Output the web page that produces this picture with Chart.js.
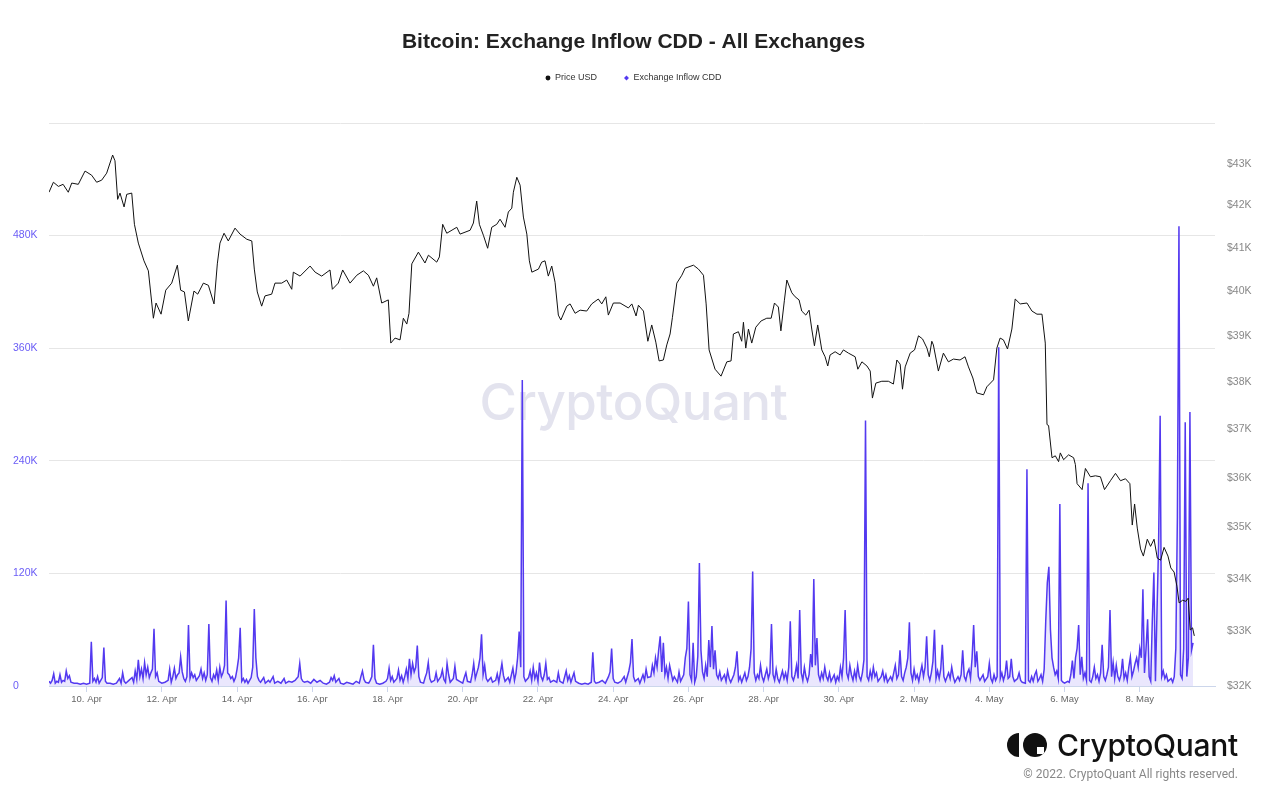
<!DOCTYPE html>
<html>
<head>
<meta charset="utf-8">
<title>Bitcoin: Exchange Inflow CDD - All Exchanges</title>
<script src="https://cdn.jsdelivr.net/npm/chart.js@4.4.0/dist/chart.umd.min.js"></script>
<style>
  html, body { margin: 0; padding: 0; background: #fff; }
  #wrap { position: relative; width: 1267px; height: 793px; overflow: hidden; }
  #wrap canvas { position: relative; z-index: 1; }
  .watermark {
    position: absolute; left: 0; width: 1267px; top: 372px; z-index: 0;
    text-align: center; font-family: Inter, "Noto Sans", sans-serif; font-weight: 500;
    font-size: 51px; line-height: 60px; color: #e3e3ee; letter-spacing: -0.5px;
  }
  .logo { position: absolute; right: 29px; top: 730px; z-index: 2; display: flex; align-items: center; }
  .logo .half { width: 12px; height: 24px; background: #111; border-radius: 12px 0 0 12px; margin-right: 4px; }
  .logo .ring { position: relative; width: 24px; height: 24px; background: #111; border-radius: 50%; margin-right: 10px; overflow: hidden; }
  .logo .ring i { position: absolute; right: 3px; bottom: 3px; width: 7px; height: 7px; background: #fff; }
  .logo span { font-family: Inter, "Noto Sans", sans-serif; font-weight: 500; font-size: 30px; line-height: 30px; color: #111; letter-spacing: -0.3px; }
  .copy { position: absolute; right: 29px; top: 767px; z-index: 2; font-family: Roboto, sans-serif; font-size: 12px; color: #888; }
</style>
</head>
<body>
<div id="wrap">
  <div class="watermark">CryptoQuant</div>
  <canvas id="cddChart"></canvas>
  <div class="logo"><div class="half"></div><div class="ring"><i></i></div><span>CryptoQuant</span></div>
  <div class="copy">© 2022. CryptoQuant All rights reserved.</div>
</div>
<script>
// x values are hours since 9 Apr 2022 00:00
var dateTickHours = [24, 72, 120, 168, 216, 264, 312, 360, 408, 456, 504, 552, 600, 648, 696];
var dateTickLabels = ['10. Apr', '12. Apr', '14. Apr', '16. Apr', '18. Apr', '20. Apr', '22. Apr', '24. Apr',
                      '26. Apr', '28. Apr', '30. Apr', '2. May', '4. May', '6. May', '8. May'];
var priceTicks = [32000, 33000, 34000, 35000, 36000, 37000, 38000, 39000, 40000, 41000, 42000, 43000];

// Price USD, [hour, price]
var priceSeries = [
  [0,42310],[2.8,42550],[6,42450],[9,42500],[12.3,42310],[14.5,42530],[18.7,42500],[23,42820],[27.2,42720],
  [30.4,42550],[33.6,42600],[36.8,42770],[40.6,43210],[42.1,43070],[43.8,42140],[45.3,42290],[47.9,41960],
  [49.6,42260],[52.8,42290],[54.5,41550],[57,41110],[60.6,40700],[63.4,40470],[66.6,39400],[68.3,39740],
  [71.5,39490],[74.5,40030],[78.3,40190],[81.9,40600],[84,40030],[86.4,39990],[88.9,39340],[92.5,40010],
  [94.9,39940],[98.5,40190],[101.7,40140],[105.3,39720],[107.4,40630],[109.1,41110],[111.7,41340],
  [114.4,41160],[118.7,41460],[121.9,41320],[126.2,41200],[129.4,41160],[131,40510],[132.9,39990],
  [135.7,39670],[137.8,39900],[142.1,39940],[144.2,40190],[148.5,40190],[151.7,40260],[154.9,40050],
  [155.9,40440],[160.2,40350],[166.6,40580],[169.8,40440],[174,40350],[179.3,40490],[180.8,40050],
  [184.6,40190],[187.4,40490],[192.1,40190],[196.4,40370],[200.6,40470],[203.8,40370],[207,40120],
  [209.1,40310],[212.3,39740],[216.5,39810],[218.1,38850],[220.8,38960],[224,38920],[226.1,39400],
  [228.3,39270],[229.7,39510],[231.5,40630],[235.7,40900],[239.9,40650],[242.1,40830],[247.4,40670],
  [249.1,40790],[251.2,41550],[253.8,41340],[260.2,41480],[262.3,41320],[268.7,41410],[270.8,41580],
  [272.9,42100],[274.6,41550],[277.2,41290],[279.9,40990],[282.5,41480],[285.7,41550],[287.8,41670],
  [291,41480],[293.1,41840],[295.3,41930],[296.3,42310],[298.5,42670],[300.6,42480],[302.7,41720],
  [304.9,41320],[306.5,40700],[308.1,40440],[312.3,40510],[314.4,40670],[316.5,40700],[318.6,40350],
  [320.8,40580],[322.9,40210],[325,39470],[326.6,39360],[330.4,39670],[332.5,39720],[335.7,39510],
  [338.9,39580],[343.1,39560],[346.3,39720],[350.5,39830],[352.7,39720],[355.3,39880],[356.9,39470],
  [360.1,39740],[364.4,39740],[369.7,39630],[371.9,39720],[374.6,39450],[376.1,39690],[379.3,39560],
  [382.1,38890],[384.6,39250],[387.2,38870],[389.3,38460],[392,38480],[394.2,38810],[396.3,39050],
  [397.8,39420],[400.6,40190],[403.8,40370],[405.9,40530],[411.2,40600],[414.4,40510],[417.6,40370],
  [419.3,39720],[421.2,38700],[425,38280],[428.8,38130],[432.5,38440],[435.2,38460],[436.7,39050],
  [439.9,39100],[442,38890],[443.1,39310],[444.6,38740],[446.3,39160],[448.4,38850],[451,39200],
  [454.4,39340],[458,39400],[460.8,39400],[462.9,39740],[465.4,39650],[467,39120],[469.2,39790],
  [470.8,40260],[474,39970],[476.1,39880],[478.6,39810],[480.3,39560],[482.9,39470],[485,39580],
  [486.7,39160],[488.4,38790],[490.5,39250],[493.1,38700],[495.2,38550],[496.9,38350],[498.4,38590],
  [501.6,38660],[504.8,38590],[506.9,38700],[510.1,38630],[514.4,38550],[516.1,38280],[518.7,38440],
  [521.9,38350],[524,38240],[525.4,37660],[527.6,37980],[531.4,38020],[535.6,38020],[538.8,37960],
  [541,38480],[543.1,38390],[544.6,37850],[546.3,38330],[549.5,38630],[552.3,38700],[554.8,39010],
  [557.4,38940],[560.2,38740],[561.7,38550],[563.3,38890],[564.3,38810],[567.5,38240],[570.7,38630],
  [573.9,38440],[577.1,38500],[581.3,38480],[584.5,38550],[586.7,38330],[589.5,38090],[592,37770],
  [596.3,37730],[598.4,37900],[602.7,38050],[604.8,38740],[606.9,38960],[609,38920],[611.6,38720],
  [614.4,39160],[616.5,39830],[619.7,39720],[624,39740],[627.2,39560],[630.4,39490],[633.6,39490],
  [635.7,38850],[636.8,37100],[637.8,37080],[640,36410],[642.1,36450],[644.2,36330],[645.3,36510],
  [647.4,36370],[650.6,36470],[653.8,36410],[654.9,36270],[656,35880],[659.2,35760],[661.3,36190],
  [664.5,36020],[667.7,36040],[670.9,36020],[673.5,35760],[677.3,35940],[680.5,36090],[683.7,35940],
  [686.9,35980],[689.7,35880],[691.2,35050],[692.7,35470],[694.4,34990],[696.5,34580],[698.3,34440],
  [700.8,34770],[702.9,34630],[705.1,34770],[707.2,34400],[709.3,34360],[711.5,34610],[714,34440],
  [715.8,34210],[717.9,34130],[719.7,33860],[721.1,33540],[723.3,33590],[725.4,33570],[726.9,33630],
  [728.2,33030],[729.7,33070],[730.8,32920]
];

// Exchange Inflow CDD, [hour, thousands]
var cddSeries = [
  [0,5],[1,3],[2,6],[3,13],[4,3],[5,5],[6,4],[7,12],[8,4],[9,6],[10,5],[11,16],[12,8],[13,11],[14,4],[16,3],
  [18,3],[20,2],[22,3],[24,2],[26,3],[27,47],[28,5],[29,8],[30,4],[31,10],[32,3],[33,6],[34,9],[35,41],[36,5],
  [37,3],[39,3],[41,2],[43,3],[45,8],[46,3],[47,14],[48,5],[49,3],[51,6],[53,9],[54,4],[55,16],[56,7],[57,28],
  [58,10],[59,18],[60,8],[61,25],[62,12],[63,20],[64,9],[65,14],[66,18],[67,61],[68,10],[69,14],[70,5],[72,3],
  [74,4],[76,6],[77,18],[78,4],[79,10],[80,19],[81,8],[82,12],[83,14],[84,31],[85,15],[86,8],[87,5],[88,10],
  [89,65],[90,8],[91,14],[92,9],[93,12],[94,6],[96,11],[97,18],[98,8],[99,14],[100,6],[101,12],[102,66],[103,9],
  [104,5],[105,12],[106,8],[107,17],[108,6],[109,20],[110,10],[111,14],[112,22],[113,91],[114,14],[115,12],
  [116,8],[117,10],[118,5],[119,9],[120,18],[121,30],[122,62],[123,5],[124,8],[125,4],[126,7],[127,3],[128,6],
  [129,9],[130,20],[131,82],[132,30],[133,10],[134,6],[135,4],[137,9],[138,3],[140,6],[141,4],[143,10],[144,3],
  [146,5],[148,3],[150,8],[151,3],[153,5],[155,4],[157,6],[158,8],[159,10],[160,24],[161,8],[162,5],[163,4],
  [165,5],[167,3],[169,7],[171,4],[173,6],[175,3],[177,2],[179,4],[180,9],[181,6],[182,11],[183,4],[185,8],
  [186,3],[188,2],[190,4],[192,3],[194,2],[196,5],[198,3],[199,10],[200,16],[201,7],[202,4],[204,3],[205,6],
  [206,10],[207,44],[208,8],[209,3],[211,2],[213,3],[215,5],[216,8],[217,19],[218,6],[219,10],[220,4],[222,8],
  [223,17],[224,6],[225,11],[226,4],[227,10],[228,18],[229,8],[230,29],[231,12],[232,24],[233,15],[234,20],
  [235,43],[236,10],[237,4],[239,3],[240,9],[241,14],[242,25],[243,8],[244,4],[246,6],[247,14],[248,5],[250,10],
  [251,17],[252,7],[253,4],[254,24],[255,12],[256,4],[258,8],[259,21],[260,7],[262,5],[264,3],[265,9],[266,14],
  [267,5],[269,4],[270,12],[271,24],[272,8],[273,14],[274,20],[275,30],[276,55],[277,12],[278,22],[279,8],
  [280,5],[282,9],[283,4],[285,6],[286,13],[287,4],[289,24],[290,11],[291,5],[293,9],[294,4],[296,19],[297,6],
  [298,14],[299,30],[300,58],[301,20],[302,326],[303,10],[304,5],[306,9],[307,16],[308,6],[309,20],[310,8],
  [311,14],[312,5],[313,25],[314,10],[315,6],[316,12],[317,24],[318,7],[319,9],[320,4],[322,6],[324,4],[325,14],
  [326,5],[328,3],[330,16],[331,6],[332,11],[333,4],[335,14],[336,5],[338,3],[340,2],[342,3],[344,2],[346,4],
  [347,36],[348,5],[349,3],[351,4],[353,6],[355,3],[357,10],[358,15],[359,40],[360,8],[361,4],[363,3],[365,5],
  [367,10],[368,4],[370,16],[371,25],[372,50],[373,10],[374,5],[376,8],[377,3],[379,12],[380,6],[381,18],[382,9],
  [384,10],[385,22],[386,14],[387,30],[388,20],[389,38],[390,53],[391,15],[392,46],[393,12],[394,20],[395,8],
  [396,22],[397,14],[398,6],[399,10],[401,4],[402,15],[403,5],[405,12],[406,30],[407,40],[408,90],[409,12],
  [410,6],[411,46],[412,4],[413,10],[414,32],[415,131],[416,38],[417,15],[418,8],[419,22],[420,10],[421,49],
  [422,20],[423,64],[424,18],[425,38],[426,12],[427,8],[428,15],[429,6],[431,12],[432,5],[433,16],[434,8],
  [435,4],[437,12],[438,20],[439,37],[440,6],[441,10],[442,4],[444,14],[445,6],[446,10],[447,20],[448,40],
  [449,122],[450,14],[451,6],[452,12],[453,8],[454,22],[455,10],[456,5],[458,18],[459,8],[460,14],[461,66],
  [462,12],[463,6],[464,18],[465,8],[466,4],[468,16],[469,8],[470,14],[471,6],[472,20],[473,69],[474,10],
  [475,6],[476,12],[477,22],[478,8],[479,81],[480,14],[481,6],[482,20],[483,10],[484,5],[485,12],[486,34],
  [487,20],[488,114],[489,22],[490,51],[491,12],[492,6],[493,14],[494,8],[495,20],[496,10],[497,6],[498,14],
  [499,5],[501,12],[502,4],[503,10],[504,6],[505,20],[506,10],[507,30],[508,81],[509,14],[510,8],[511,22],
  [512,12],[513,6],[514,16],[515,8],[516,22],[517,10],[518,6],[519,14],[520,28],[521,283],[522,10],[523,6],
  [524,16],[525,8],[526,20],[527,10],[528,14],[529,5],[531,10],[532,16],[533,6],[534,12],[535,4],[537,10],
  [538,6],[539,14],[540,22],[541,8],[542,12],[543,38],[544,10],[545,6],[546,14],[547,20],[548,30],[549,68],
  [550,14],[551,6],[552,18],[553,8],[554,12],[555,5],[556,14],[557,22],[558,10],[559,20],[560,53],[561,12],
  [562,6],[563,14],[564,26],[565,60],[566,8],[567,16],[568,8],[569,18],[570,44],[571,10],[572,5],[574,14],
  [575,8],[576,20],[577,10],[578,4],[580,10],[581,6],[582,12],[583,38],[584,10],[585,6],[586,14],[587,18],
  [588,8],[589,30],[590,65],[591,20],[592,37],[593,10],[594,6],[596,12],[597,5],[599,10],[600,24],[601,8],
  [602,4],[603,12],[604,6],[605,10],[606,361],[607,8],[608,14],[609,6],[610,12],[611,27],[612,8],[613,10],
  [614,29],[615,10],[616,5],[618,8],[619,14],[620,6],[621,4],[623,3],[624,231],[625,6],[626,4],[627,10],
  [628,5],[629,12],[630,16],[631,5],[632,8],[633,12],[634,5],[635,18],[636,69],[637,110],[638,127],[639,60],
  [640,30],[641,20],[642,12],[643,16],[644,8],[645,194],[646,6],[647,4],[648,3],[650,5],[651,4],[652,12],
  [653,27],[654,8],[655,30],[656,40],[657,65],[658,12],[659,31],[660,8],[661,14],[662,6],[663,216],[664,6],
  [665,4],[666,10],[667,20],[668,8],[669,12],[670,5],[671,14],[672,44],[673,10],[674,6],[675,12],[676,20],
  [677,81],[678,10],[679,25],[680,8],[681,22],[682,10],[683,6],[684,12],[685,29],[686,8],[687,14],[688,6],
  [689,20],[690,31],[691,10],[692,16],[693,24],[694,30],[695,20],[696,40],[697,30],[698,103],[699,14],
  [700,40],[701,71],[702,10],[703,5],[704,70],[705,121],[706,5],[707,80],[708,150],[709,288],[710,10],
  [711,16],[712,8],[713,12],[714,5],[716,8],[717,4],[718,10],[719,40],[720,180],[721,490],[722,12],[723,8],
  [724,40],[725,281],[726,10],[727,30],[728,292],[729,38],[730,46]
];

var PURPLE = '#5339f0';

function toPoints(series) {
    return series.map(function (p) { return {x: p[0], y: p[1]}; });
}

// lifts the legend row a few px, the label padding pushes it down otherwise
var legendNudge = {
    id: 'legendNudge',
    afterLayout: function (chart) {
        chart.legend.top -= 8.1;
        chart.legend.bottom -= 8.1;
    }
};

Chart.defaults.font.family = '"Liberation Sans", Arial, sans-serif';
Chart.defaults.animation = false;

var cddChart = new Chart(document.getElementById('cddChart').getContext('2d'), {
    type: 'line',
    data: {
        datasets: [
            {
                label: 'Price USD',
                data: toPoints(priceSeries),
                yAxisID: 'yPrice',
                borderColor: '#111',
                backgroundColor: '#111',
                pointBackgroundColor: '#111',
                pointBorderWidth: 0,
                pointStyle: 'circle',
                borderWidth: 1,
                pointRadius: 0,
                tension: 0
            },
            {
                label: 'Exchange Inflow CDD',
                data: toPoints(cddSeries),
                yAxisID: 'yCdd',
                borderColor: PURPLE,
                backgroundColor: 'rgba(83, 57, 240, 0.12)',
                pointBackgroundColor: PURPLE,
                pointBorderWidth: 0,
                pointStyle: 'rectRot',
                fill: 'origin',
                borderWidth: 1.5,
                pointRadius: 0,
                tension: 0
            }
        ]
    },
    options: {
        responsive: true,
        maintainAspectRatio: false,
        layout: { padding: { left: 13, right: 13, top: 0, bottom: 0 } },
        plugins: {
            title: {
                display: true,
                text: 'Bitcoin: Exchange Inflow CDD - All Exchanges',
                color: '#222',
                font: { size: 21, weight: 'bold' },
                padding: { top: 29.4, bottom: 0 }
            },
            subtitle: {
                display: true,
                text: '',
                weight: 500,
                font: { size: 22.4, lineHeight: 1 },
                padding: 0
            },
            legend: {
                display: true,
                position: 'top',
                labels: {
                    usePointStyle: true,
                    boxWidth: 5,
                    boxHeight: 3.5,
                    padding: 27,
                    color: '#333',
                    font: { size: 9 }
                }
            },
            tooltip: { enabled: false }
        },
        scales: {
            x: {
                type: 'linear',
                position: 'bottom',
                min: 0,
                max: 744,
                afterBuildTicks: function (scale) {
                    scale.ticks = dateTickHours.map(function (h) { return {value: h}; });
                },
                afterFit: function (scale) { scale.height = 107; },
                ticks: {
                    autoSkip: false,
                    maxRotation: 0,
                    color: '#666',
                    padding: 2,
                    font: { size: 9.5 },
                    callback: function (value, index) { return dateTickLabels[index]; }
                },
                grid: { drawOnChartArea: false, drawTicks: true, tickLength: 6, color: '#ccd6eb' },
                border: { display: true, color: '#ccd6eb' }
            },
            yCdd: {
                type: 'linear',
                position: 'left',
                min: 0,
                max: 600,
                afterFit: function (scale) { scale.width = 36; },
                ticks: {
                    stepSize: 120,
                    crossAlign: 'far',
                    color: '#6a5cf6',
                    font: { size: 10.5 },
                    callback: function (value) {
                        if (value === 0) return '0';
                        if (value >= 600) return '';
                        return value + 'K';
                    }
                },
                grid: { color: '#e6e6e6', drawTicks: false },
                border: { display: false }
            },
            yPrice: {
                type: 'logarithmic',
                position: 'right',
                min: 32000,
                max: 44000,
                afterBuildTicks: function (scale) {
                    scale.ticks = priceTicks.map(function (v) { return {value: v}; });
                },
                afterFit: function (scale) { scale.width = 39; },
                ticks: {
                    padding: 12,
                    color: '#888',
                    font: { size: 10.5 },
                    callback: function (value) { return '$' + (value / 1000) + 'K'; }
                },
                grid: { display: false, drawTicks: false },
                border: { display: false }
            }
        }
    },
    plugins: [legendNudge]
});
</script>
</body>
</html>
